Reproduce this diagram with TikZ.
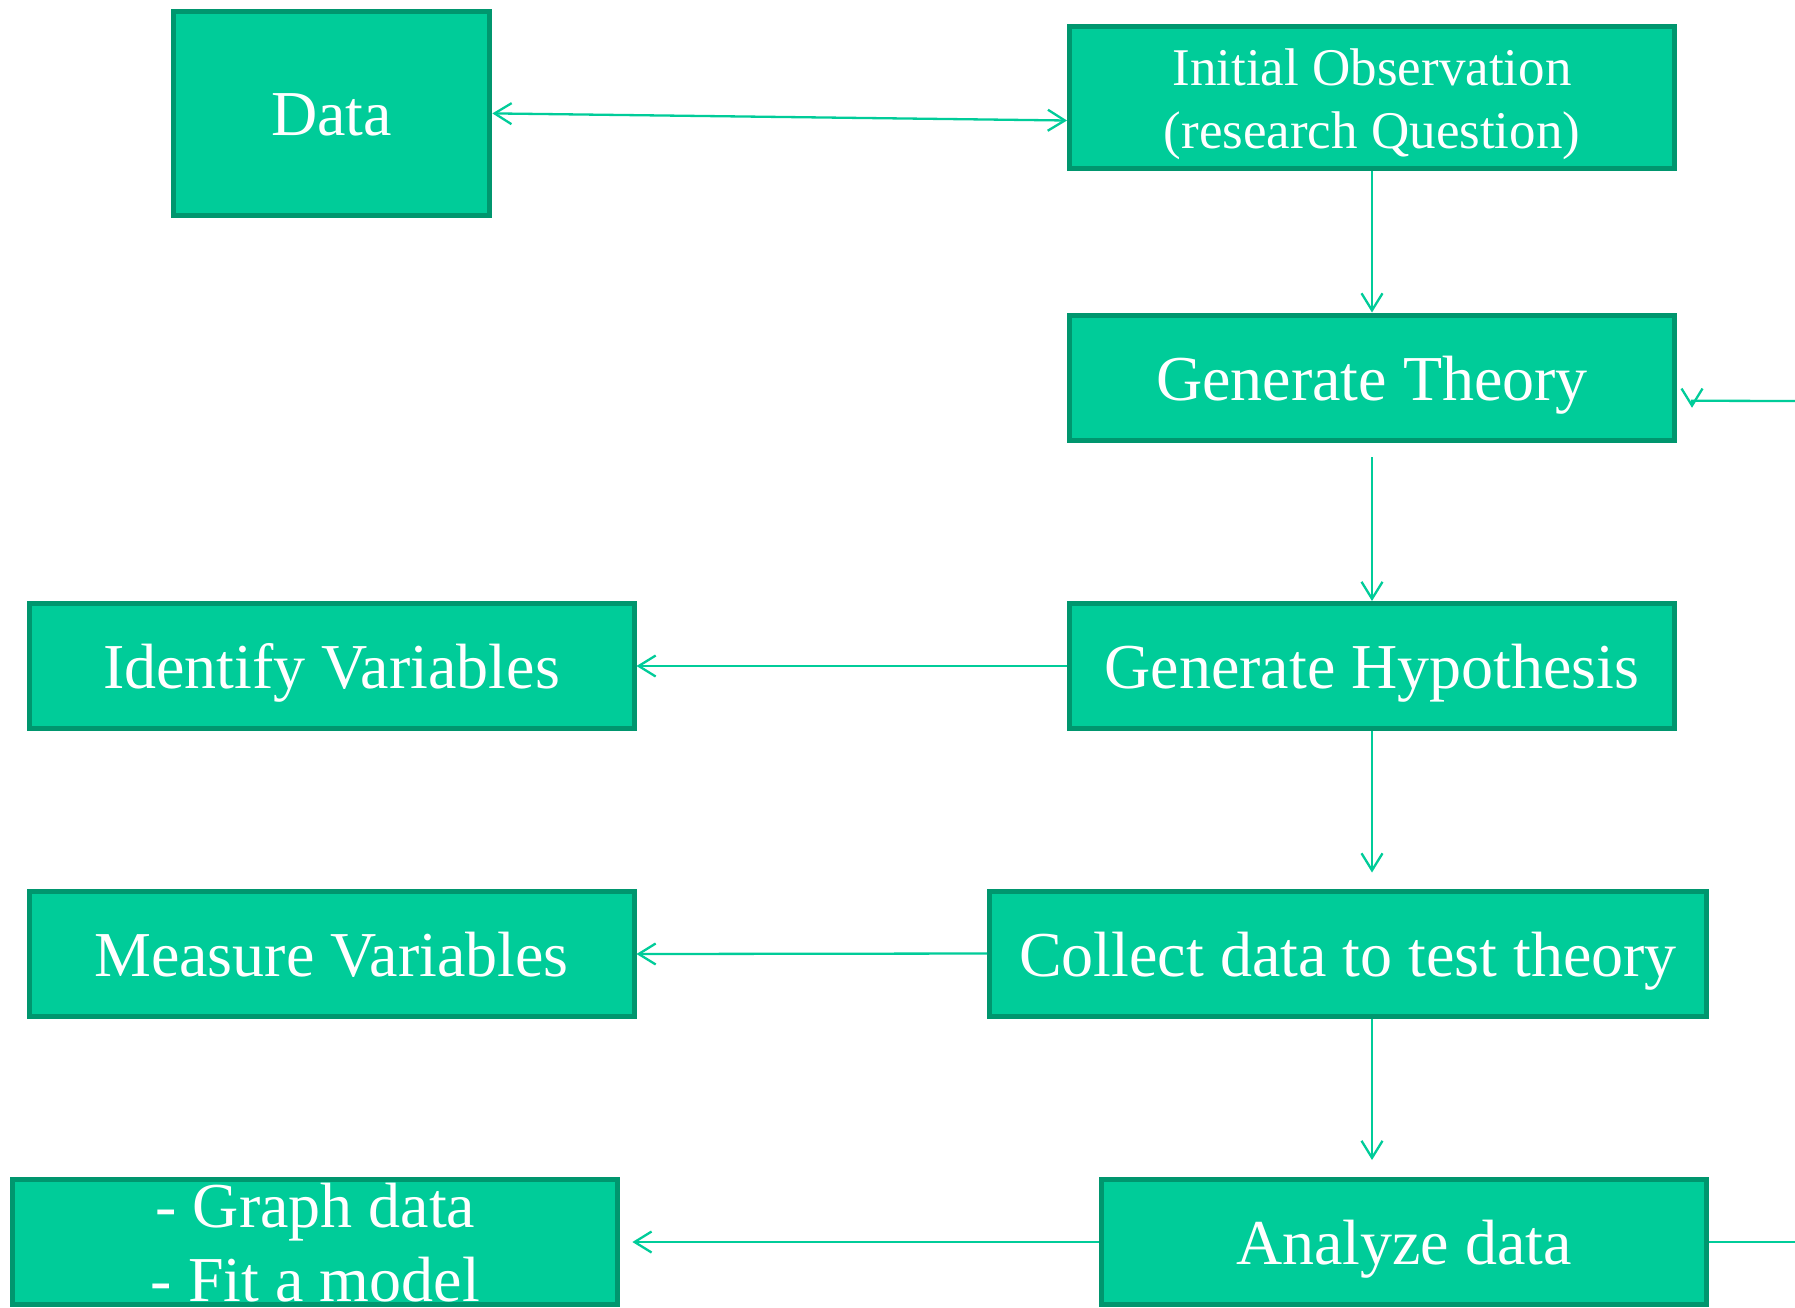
\documentclass[tikz,border=0pt]{standalone}
\usepackage{fontspec}
\setmainfont{Liberation Serif}
\usetikzlibrary{arrows.meta,calc}
\definecolor{boxfill}{RGB}{0,204,153}
\definecolor{boxedge}{RGB}{0,150,110}
\definecolor{flowline}{RGB}{0,204,153}
\begin{document}
\begin{tikzpicture}[x=1pt,y=-1pt,
  >={Straight Barb[length=17pt,width=21pt]},
  stepbox/.style={draw=boxedge, line width=5pt, fill=boxfill, text=white,
    inner sep=0pt, minimum width=605pt, minimum height=125pt,
    font=\fontsize{64}{74}\selectfont, text height=45pt, text depth=0pt},
  twoline/.style={text height=0pt, text depth=30pt},
  flow/.style={draw=flowline, line width=2.3pt}]
  \useasboundingbox (0,0) rectangle (1795,1307);
  \clip (0,0) rectangle (1795,1307);
  \fill[white] (0,0) rectangle (1795,1307);

  % boxes
  \node[stepbox, minimum width=316.7pt, minimum height=203.3pt] (data) at (331.5,113.4) {Data};
  \node[stepbox, minimum height=142pt, font=\fontsize{53}{62.5}\selectfont,
        text height=0pt, text depth=24pt] (obs) at (1372,97.5)
        {\begin{tabular}[t]{@{}c@{}}Initial Observation\\(research Question)\end{tabular}};
  \node[stepbox, minimum height=125.5pt] (theory) at (1372,377.75) {Generate Theory};
  \node[stepbox] (hyp) at (1372,666) {Generate Hypothesis};
  \node[stepbox] (ident) at (331.5,666) {Identify Variables};
  \node[stepbox] (measure) at (331.5,954) {Measure Variables};
  \node[stepbox, minimum width=717pt] (collect) at (1348,953.5) {Collect data to test theory};
  \node[stepbox] (analyze) at (1404,1242) {Analyze data};
  \node[stepbox, twoline] (graph) at (315.4,1242)
        {\begin{tabular}[t]{@{}c@{}}- Graph data\\- Fit a model\end{tabular}};

  % loose ends at the right margin
  \coordinate (outR) at (1795,1242);
  \coordinate (inR) at (1795,401);

  % connectors
  \draw[flow,<->] (data.east) -- ($(obs.west)+(0,23)$);
  \draw[flow,->] (obs.south) -- (theory.north);
  \draw[flow,->] ($(theory.south)+(0,14)$) -- (hyp.north);
  \draw[flow,->] (hyp.west) -- (ident.east);
  \draw[flow,->] (hyp.south) -- ($(hyp.south |- collect.north)+(0,-16)$);
  \draw[flow,->] (collect.west) -- (measure.east);
  \draw[flow,->] (hyp.south |- collect.south) -- ($(hyp.south |- analyze.north)+(0,-17)$);
  \draw[flow,->] (analyze.west) -- ($(graph.east)+(12,0)$);
  \draw[flow] (analyze.east) -- (outR);
  \draw[flow,->] (inR) -- ($(theory.east)+(15,23)$) -- ($(theory.east)+(15,30)$);
\end{tikzpicture}
\end{document}
